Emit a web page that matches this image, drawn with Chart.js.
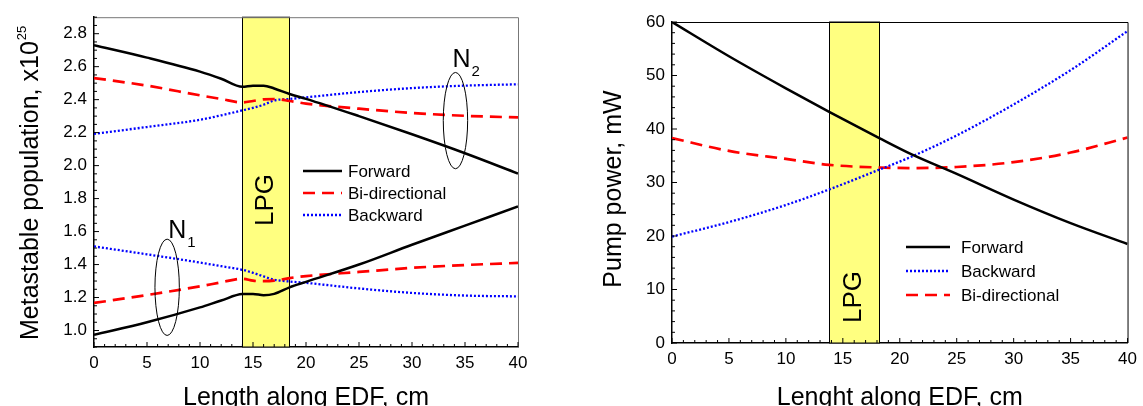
<!DOCTYPE html>
<html>
<head>
<meta charset="utf-8">
<script src="https://cdn.jsdelivr.net/npm/chart.js@4"></script>
<style>
  html, body { margin: 0; padding: 0; background: #fff; overflow: hidden; }
  .box { position: absolute; top: 0; }
</style>
</head>
<body>
<div class="box" style="left:0px"><canvas id="left" width="560" height="420"></canvas></div>
<div class="box" style="left:580px"><canvas id="right" width="563" height="420"></canvas></div>
<script>
const FONT = '"Liberation Sans", Arial, sans-serif';

// ---- left chart: metastable population (x10^25) ----
const leftX = [0, 5, 10, 12, 14, 15, 16, 17, 18.45, 20, 25, 30, 35, 40];
const n2Forward  = [2.73, 2.655, 2.57, 2.527, 2.478, 2.485, 2.485, 2.468, 2.434, 2.405, 2.30, 2.19, 2.075, 1.952];
const n2Bidir    = [2.531, 2.485, 2.426, 2.404, 2.383, 2.392, 2.402, 2.404, 2.392, 2.376, 2.345, 2.319, 2.302, 2.292];
const n2Backward = [2.193, 2.234, 2.278, 2.305, 2.335, 2.35, 2.369, 2.395, 2.404, 2.414, 2.446, 2.47, 2.485, 2.493];
const n1Forward  = [0.974, 1.05, 1.14, 1.182, 1.221, 1.222, 1.214, 1.222, 1.262, 1.295, 1.40, 1.52, 1.636, 1.752];
const n1Bidir    = [1.167, 1.215, 1.268, 1.292, 1.314, 1.302, 1.299, 1.302, 1.318, 1.33, 1.355, 1.38, 1.397, 1.41];
const n1Backward = [1.510, 1.462, 1.412, 1.39, 1.368, 1.35, 1.328, 1.308, 1.297, 1.289, 1.255, 1.228, 1.212, 1.207];
const leftXTicks = [0, 5, 10, 15, 20, 25, 30, 35, 40];
const leftYTicks = [1.0, 1.2, 1.4, 1.6, 1.8, 2.0, 2.2, 2.4, 2.6, 2.8];
const leftBand = [14, 18.45];

// ---- right chart: pump power, mW ----
const rightX = [0, 5, 10, 13.8, 18.2, 21, 25, 30, 35, 40];
const pumpForward  = [60, 53.6, 47.6, 43.2, 38.3, 35.3, 31.6, 26.8, 22.4, 18.5];
const pumpBackward = [19.9, 22.6, 25.8, 28.7, 32.4, 34.8, 38.8, 44.6, 51.0, 58.3];
const pumpBidir    = [38.3, 35.9, 34.4, 33.3, 32.8, 32.7, 32.9, 33.8, 35.6, 38.4];
const rightXTicks = [0, 5, 10, 15, 20, 25, 30, 35, 40];
const rightYTicks = [0, 10, 20, 30, 40, 50, 60];
const rightBand = [13.8, 18.2];

const styles = {
  Forward: { color: '#000000', dash: [], width: 2.5 },
  'Bi-directional': { color: '#ff0000', dash: [12, 7], width: 2.7 },
  Backward: { color: '#0000ff', dash: [2, 2], width: 2.3 }
};

function pts(xs, ys) {
  return xs.map((x, i) => ({ x: x, y: ys[i] }));
}

function line(name, xs, ys) {
  const s = styles[name];
  return {
    label: name,
    data: pts(xs, ys),
    borderColor: s.color,
    borderDash: s.dash,
    borderWidth: s.width,
    pointRadius: 0,
    fill: false,
    cubicInterpolationMode: 'monotone'
  };
}

function drawTicks(ctx, scale, a, horizontal, min, max, minor, major) {
  const n = Math.round((max - min) / minor);
  ctx.beginPath();
  for (let i = 0; i <= n; i++) {
    const v = min + i * minor;
    const r = v / major;
    const len = Math.abs(r - Math.round(r)) < 1e-6 ? 5 : 3;
    const p = scale.getPixelForValue(v);
    if (horizontal) {
      ctx.moveTo(p, a.bottom);
      ctx.lineTo(p, a.bottom - len);
    } else {
      ctx.moveTo(a.left, p);
      ctx.lineTo(a.left + len, p);
    }
  }
  ctx.stroke();
}

function makeDeco(cfg) {
  return {
    id: 'deco',
    beforeDatasetsDraw(chart) {
      const { ctx, chartArea: a } = chart;
      const x = chart.scales.x;
      const x0 = x.getPixelForValue(cfg.band[0]);
      const x1 = x.getPixelForValue(cfg.band[1]);
      ctx.save();
      ctx.fillStyle = '#ffff80';
      ctx.fillRect(x0, a.top, x1 - x0, a.bottom - a.top);
      ctx.strokeStyle = '#000';
      ctx.lineWidth = 1;
      ctx.strokeRect(Math.round(x0) + 0.5, a.top, Math.round(x1 - x0), a.bottom - a.top);
      ctx.translate((x0 + x1) / 2, cfg.lpgY);
      ctx.rotate(-Math.PI / 2);
      ctx.fillStyle = '#000';
      ctx.font = '26px ' + FONT;
      ctx.textAlign = 'center';
      ctx.textBaseline = 'middle';
      ctx.fillText('LPG', 0, 0);
      ctx.restore();
    },
    afterDraw(chart) {
      const { ctx, chartArea: a } = chart;
      const xs = chart.scales.x, ys = chart.scales.y;
      ctx.save();

      // frame top/right
      ctx.strokeStyle = cfg.frameColor;
      ctx.lineWidth = 1;
      ctx.beginPath();
      ctx.moveTo(a.left, a.top + 0.5);
      ctx.lineTo(a.right + 0.5, a.top + 0.5);
      ctx.lineTo(a.right + 0.5, a.bottom);
      ctx.stroke();

      // inward ticks
      ctx.strokeStyle = '#000';
      ctx.lineWidth = 1;
      drawTicks(ctx, xs, a, true, xs.min, xs.max, cfg.xMinor, cfg.xMajor);
      drawTicks(ctx, ys, a, false, ys.min, ys.max, cfg.yMinor, cfg.yMajor);

      // ellipses with N labels
      (cfg.ellipses || []).forEach(e => {
        const cx = xs.getPixelForValue(e.x);
        const cy = ys.getPixelForValue(e.y);
        const rx = Math.abs(xs.getPixelForValue(e.x + e.rx) - cx);
        const ry = Math.abs(ys.getPixelForValue(e.y + e.ry) - cy);
        ctx.beginPath();
        ctx.ellipse(cx, cy, rx, ry, 0, 0, Math.PI * 2);
        ctx.strokeStyle = '#000';
        ctx.lineWidth = 1;
        ctx.stroke();
        ctx.fillStyle = '#000';
        ctx.textAlign = 'left';
        ctx.textBaseline = 'alphabetic';
        ctx.font = '25px ' + FONT;
        const nx = cx + e.dx, ny = cy - ry - e.dy;
        ctx.fillText('N', nx, ny);
        const w = ctx.measureText('N').width;
        ctx.font = '15px ' + FONT;
        ctx.fillText(e.sub, nx + w + 1, ny + 9);
      });

      // legend
      const L = cfg.legend;
      L.items.forEach((name, i) => {
        const s = styles[name];
        const y = L.y + i * L.dy;
        ctx.beginPath();
        ctx.setLineDash(s.dash);
        ctx.strokeStyle = s.color;
        ctx.lineWidth = s.width;
        ctx.moveTo(L.x1, y);
        ctx.lineTo(L.x2, y);
        ctx.stroke();
        ctx.setLineDash([]);
        ctx.fillStyle = '#000';
        ctx.font = '17px ' + FONT;
        ctx.textAlign = 'left';
        ctx.textBaseline = 'middle';
        ctx.fillText(name, L.tx, y + 1);
      });

      // axis titles
      ctx.fillStyle = '#000';
      ctx.font = '25px ' + FONT;
      ctx.textAlign = 'center';
      ctx.textBaseline = 'alphabetic';
      ctx.fillText(cfg.xTitle, (a.left + a.right) / 2, 405);

      ctx.save();
      ctx.translate(cfg.yTitleX, cfg.yTitleY);
      ctx.rotate(-Math.PI / 2);
      ctx.font = '25px ' + FONT;
      if (cfg.ySup) {
        ctx.textAlign = 'left';
        ctx.fillText(cfg.yTitle, 0, 0);
        const w = ctx.measureText(cfg.yTitle).width;
        ctx.font = '13px ' + FONT;
        ctx.fillText(cfg.ySup, w + 1, -12);
      } else {
        ctx.textAlign = 'center';
        ctx.fillText(cfg.yTitle, 0, 0);
      }
      ctx.restore();

      ctx.restore();
    }
  };
}

function makeChart(id, datasets, ax, deco) {
  const tickFont = { family: FONT, size: 17 };
  return new Chart(document.getElementById(id), {
    type: 'line',
    data: { datasets: datasets },
    options: {
      responsive: false,
      devicePixelRatio: 1,
      animation: false,
      layout: { padding: ax.padding },
      plugins: { legend: { display: false }, tooltip: { enabled: false } },
      scales: {
        x: {
          type: 'linear',
          min: ax.xMin, max: ax.xMax,
          grid: { display: false, drawTicks: false },
          border: { display: true, color: '#000', width: 1.5 },
          afterBuildTicks: s => { s.ticks = ax.xTicks.map(v => ({ value: v })); },
          afterFit: s => { s.height = ax.xHeight; },
          ticks: { color: '#000', font: tickFont, padding: 6, maxRotation: 0, autoSkip: false }
        },
        y: {
          type: 'linear',
          min: ax.yMin, max: ax.yMax,
          grid: { display: false, drawTicks: false },
          border: { display: true, color: '#000', width: 1.5 },
          afterBuildTicks: s => { s.ticks = ax.yTicks.map(v => ({ value: v })); },
          afterFit: s => { s.width = ax.yWidth; },
          ticks: { color: '#000', font: tickFont, padding: 7, autoSkip: false,
                   callback: v => ax.yFmt(v) }
        }
      }
    },
    plugins: [makeDeco(deco)]
  });
}

makeChart('left', [
  line('Forward', leftX, n2Forward),
  line('Bi-directional', leftX, n2Bidir),
  line('Backward', leftX, n2Backward),
  line('Forward', leftX, n1Forward),
  line('Bi-directional', leftX, n1Bidir),
  line('Backward', leftX, n1Backward)
], {
  xMin: 0, xMax: 40, yMin: 0.9, yMax: 2.9,
  xTicks: leftXTicks, yTicks: leftYTicks,
  yFmt: v => v.toFixed(1),
  padding: { left: 0, right: 42, top: 17, bottom: 0 },
  yWidth: 94, xHeight: 73
}, {
  band: leftBand, lpgY: 200,
  frameColor: '#777',
  xMinor: 1, xMajor: 5, yMinor: 0.05, yMajor: 0.2,
  ellipses: [
    { x: 6.9, y: 1.262, rx: 1.15, ry: 0.292, sub: '1', dx: 1, dy: 1 },
    { x: 34.1, y: 2.273, rx: 1.15, ry: 0.292, sub: '2', dx: -3, dy: 5 }
  ],
  legend: { items: ['Forward', 'Bi-directional', 'Backward'], x1: 303, x2: 342, tx: 348, y: 171, dy: 22 },
  xTitle: 'Length along EDF, cm',
  yTitle: 'Metastable population, x10', ySup: '25', yTitleX: 37.5, yTitleY: 340
});

makeChart('right', [
  line('Forward', rightX, pumpForward),
  line('Backward', rightX, pumpBackward),
  line('Bi-directional', rightX, pumpBidir)
], {
  xMin: 0, xMax: 40, yMin: 0, yMax: 60,
  xTicks: rightXTicks, yTicks: rightYTicks,
  yFmt: v => String(v),
  padding: { left: 0, right: 11, top: 22, bottom: 0 },
  yWidth: 92, xHeight: 77
}, {
  band: rightBand, lpgY: 297,
  frameColor: '#000',
  xMinor: 1, xMajor: 5, yMinor: 2, yMajor: 10,
  ellipses: [],
  legend: { items: ['Forward', 'Backward', 'Bi-directional'], x1: 326, x2: 370, tx: 381, y: 247, dy: 24 },
  xTitle: 'Lenght along EDF, cm',
  yTitle: 'Pump power, mW', ySup: '', yTitleX: 41, yTitleY: 189
});
</script>
</body>
</html>
